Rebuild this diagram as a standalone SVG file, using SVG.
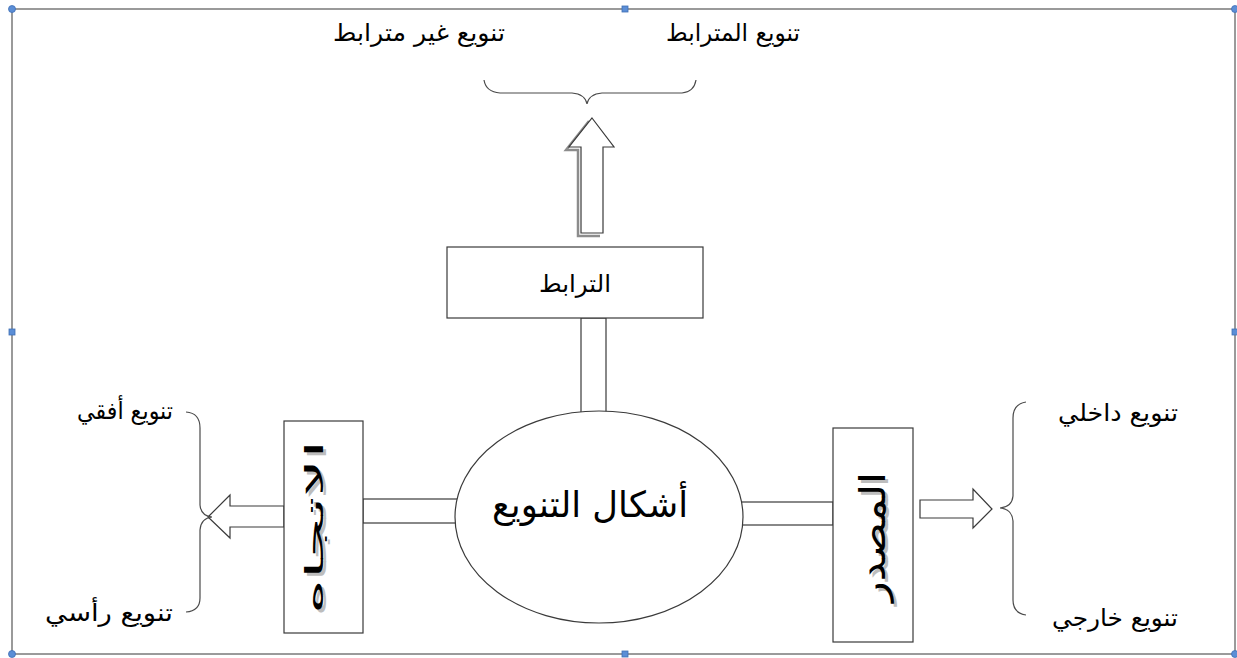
<svg xmlns="http://www.w3.org/2000/svg" width="1237" height="658" viewBox="0 0 1237 658">
  <style>
    .frame { fill: none; stroke: #7a7a7a; stroke-width: 1.5; }
    .handle { fill: #5b8ed6; stroke: #3f6fb5; stroke-width: 0.8; }
    .shape { fill: #ffffff; stroke: #3a3a3a; stroke-width: 1.2; }
    .brace { fill: none; stroke: #4a4a4a; stroke-width: 1.2; }
    .shadow { fill: none; stroke: #8c8c8c; stroke-width: 2.5; }
    .label { font-family: "DejaVu Sans", "Liberation Sans", sans-serif; fill: #000; text-anchor: middle; }
    .art { font-family: "DejaVu Sans", "Liberation Sans", sans-serif; text-anchor: middle; }
  </style>

  <!-- canvas frame with selection handles -->
  <g id="frame">
    <rect class="frame" x="12" y="9" width="1223" height="645"/>
    <circle class="handle" cx="12" cy="9" r="3.5"/>
    <circle class="handle" cx="1235" cy="9" r="3.5"/>
    <circle class="handle" cx="12" cy="654" r="3.5"/>
    <circle class="handle" cx="1235" cy="654" r="3.5"/>
    <rect class="handle" x="622" y="6" width="6" height="6"/>
    <rect class="handle" x="622" y="651" width="6" height="6"/>
    <rect class="handle" x="9" y="329" width="6" height="6"/>
    <rect class="handle" x="1232" y="329" width="6" height="6"/>
  </g>

  <!-- connectors: double-line bars, block arrows and braces -->
  <g id="connectors">
    <rect class="shape" x="581" y="318" width="25" height="100"/>
    <rect class="shape" x="363" y="499" width="100" height="24"/>
    <rect class="shape" x="736" y="502" width="97" height="23"/>

    <!-- up block arrow with shadow -->
    <path class="shadow" d="M589,121 L566,150 L578,150 L578,236 L600,236"/>
    <path class="shape" d="M592,118 L614,147 L603,147 L603,233 L581,233 L581,147 L569,147 Z"/>

    <!-- left block arrow -->
    <path class="shape" d="M208,517 L230,495 L230,506 L284,506 L284,527 L230,527 L230,538 Z"/>

    <!-- right block arrow -->
    <path class="shape" d="M920,500 L973,500 L973,489 L992,509 L973,528 L973,518 L920,518 Z"/>

    <!-- braces -->
    <path class="brace" d="M484,80 Q486,92 500,93 L572,93 Q585,94 587,104 Q589,94 602,93 L682,93 Q694,92 696,80"/>
    <path class="brace" d="M186,412 Q200,413 200,428 L200,505 Q201,516 212,517 Q201,518 200,530 L200,598 Q200,611 186,612"/>
    <path class="brace" d="M1026,402 Q1013,404 1013,418 L1013,496 Q1012,507 1000,508 Q1012,509 1013,521 L1013,600 Q1013,613 1026,615"/>
  </g>

  <g id="node-center">
    <ellipse class="shape" cx="599" cy="517" rx="144" ry="106"/>
    <text class="label" x="590" y="517" font-size="36" textLength="196" lengthAdjust="spacingAndGlyphs">أشكال التنويع</text>
  </g>

  <g id="node-link">
    <rect class="shape" x="447" y="247" width="256" height="71"/>
    <text class="label" x="575" y="292" font-size="24" textLength="72" lengthAdjust="spacingAndGlyphs">الترابط</text>
  </g>

  <g id="node-direction">
    <rect class="shape" x="284" y="421" width="79" height="212"/>
    <text class="art" fill="#bdbdbd" font-size="25" textLength="174" lengthAdjust="spacingAndGlyphs" transform="translate(318,530) rotate(-90)" x="0" y="8">الاتجاه</text>
    <text class="art" fill="#000" font-size="25" textLength="174" lengthAdjust="spacingAndGlyphs" transform="translate(315,527) rotate(-90)" x="0" y="8">الاتجاه</text>
  </g>

  <g id="node-source">
    <rect class="shape" x="833" y="428" width="80" height="214"/>
    <text class="art" fill="#bdbdbd" font-size="36" textLength="130" lengthAdjust="spacingAndGlyphs" transform="translate(879,540) rotate(-90)" x="0" y="9">المصدر</text>
    <text class="art" fill="#000" font-size="36" textLength="130" lengthAdjust="spacingAndGlyphs" transform="translate(876,537) rotate(-90)" x="0" y="9">المصدر</text>
  </g>

  <g id="labels-top">
    <text class="label" x="733" y="41" font-size="24" textLength="134" lengthAdjust="spacingAndGlyphs">تنويع المترابط</text>
    <text class="label" x="419" y="41" font-size="24" textLength="172" lengthAdjust="spacingAndGlyphs">تنويع غير مترابط</text>
  </g>

  <g id="labels-left">
    <text class="label" x="125" y="419" font-size="24" textLength="96" lengthAdjust="spacingAndGlyphs">تنويع أفقي</text>
    <text class="label" x="109" y="621" font-size="24" textLength="128" lengthAdjust="spacingAndGlyphs">تنويع رأسي</text>
  </g>

  <g id="labels-right">
    <text class="label" x="1118" y="421" font-size="24" textLength="120" lengthAdjust="spacingAndGlyphs">تنويع داخلي</text>
    <text class="label" x="1115" y="626" font-size="24" textLength="126" lengthAdjust="spacingAndGlyphs">تنويع خارجي</text>
  </g>
</svg>
